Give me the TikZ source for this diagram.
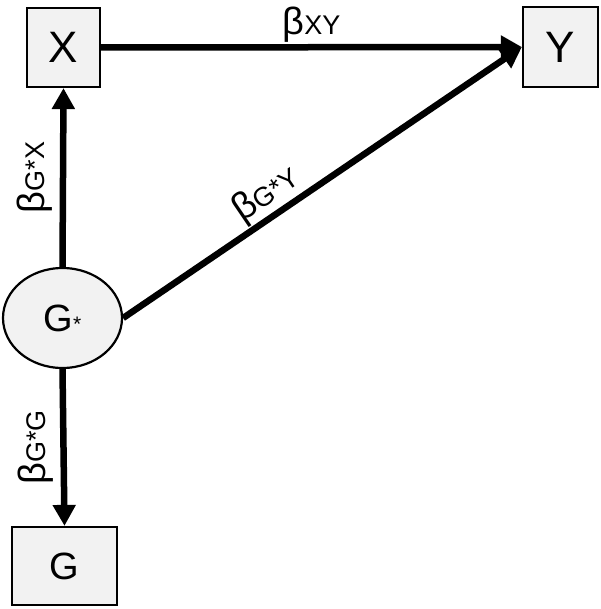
\documentclass[tikz,border=0pt]{standalone}
\usepackage{fontspec}
\setmainfont{Liberation Sans}
\usetikzlibrary{arrows.meta,shapes.geometric}
\definecolor{boxfill}{HTML}{F2F2F2}
\newcommand{\coef}[1]{{\fontsize{38}{38}\selectfont β}{\fontsize{27}{27}\selectfont #1}}

\begin{document}
\begin{tikzpicture}[x=1pt,y=-1pt,>={Triangle[length=21pt,width=22pt]},
  var/.style={draw,line width=2.2pt,fill=boxfill,inner sep=0pt},
  effect/.style={->,line width=6.5pt},
  coeflabel/.style={inner sep=#1},coeflabel/.default=3pt]
\useasboundingbox (0,0) rectangle (600,609);
\node[var,minimum width=73pt,minimum height=79pt,font=\fontsize{44}{44}\selectfont] (X) at (63.5,47.5) {X};
\node[var,minimum width=75pt,minimum height=80pt,font=\fontsize{44}{44}\selectfont] (Y) at (560.5,47) {Y};
\node[var,ellipse,minimum width=119pt,minimum height=100pt,font=\fontsize{38}{38}\selectfont] (Gs) at (62.5,318) {G{\fontsize{21}{21}\selectfont *}};
\node[var,minimum width=105pt,minimum height=78pt,font=\fontsize{38}{38}\selectfont] (G) at (64.5,566) {G};
% paths
\draw[effect] (X.east) -- node[coeflabel=2pt,above] {\coef{XY}} (Y.west);
\draw[effect] (Gs.east) -- node[coeflabel=1pt,pos=0.39,above,sloped] {\coef{G*Y}} (Y.west);
\draw[effect] (Gs.north) -- node[coeflabel=7pt,midway,rotate=90,anchor=south] {\coef{G*X}} (X.south);
\draw[effect] (Gs.south) -- node[coeflabel=7pt,midway,rotate=90,anchor=south] {\coef{G*G}} (G.north);
\end{tikzpicture}
\end{document}
